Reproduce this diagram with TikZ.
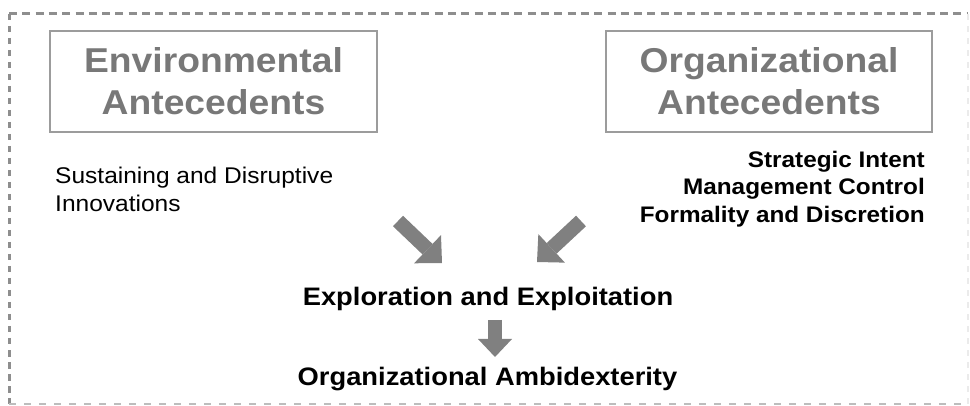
\documentclass[tikz,border=0pt]{standalone}
\usepackage{fontspec}
\setmainfont{Liberation Sans}[FakeStretch=1.08]
\usetikzlibrary{arrows.meta}
\definecolor{headgray}{HTML}{787878}
\definecolor{boxgray}{HTML}{9C9C9C}
\definecolor{arrowgray}{HTML}{808080}
\definecolor{framegray}{HTML}{8E8E8E}
\definecolor{lightframe}{HTML}{BDBDBD}

\begin{document}
\begin{tikzpicture}[x=1pt,y=-1pt,
	headbox/.style={draw=boxgray,line width=1.2pt,minimum width=327pt,minimum height=101pt,inner sep=0pt,align=center,text=headgray,font=\fontsize{34.5}{42}\selectfont\bfseries},
	flowtext/.style={inner sep=0pt,anchor=base,font=\fontsize{25.3}{30}\selectfont\bfseries},
	blockarrow/.style={draw=arrowgray,line width=14.5pt,-{Triangle[length=20pt,width=39pt,line width=0pt]}}]
			\useasboundingbox (0,0) rectangle (970,406);
			
			% dashed frame, the lower and right edges fainter
			\draw[framegray,line width=3pt,dash pattern=on 8pt off 5.3pt] (9,14) -- (968,14);
			\draw[framegray,line width=3pt,dash pattern=on 6.5pt off 5.5pt] (9,14) -- (9,404);
			\draw[lightframe,line width=1.5pt,dash pattern=on 7pt off 8pt] (9,404) -- (968,404);
			\draw[lightframe!30,line width=1.5pt,dash pattern=on 6pt off 6pt] (968,14) -- (968,404);
			
			\node[headbox] (envhead) at (213.5,81.5) {Environmental\\Antecedents};
			\node[headbox,minimum width=326pt] (orghead) at (769,81.5) {Organizational\\Antecedents};
			
			\node[inner sep=0pt,anchor=north west,align=left,font=\fontsize{22.7}{28.4}\selectfont] (envlist) at (55,166.5) {Sustaining and Disruptive\\Innovations};
			\node[inner sep=0pt,anchor=north east,align=right,font=\fontsize{22.5}{27.8}\selectfont\bfseries] (orglist) at (925,150.5) {Strategic Intent\\Management Control\\Formality and Discretion};
			
			\node[flowtext] (explore) at (488,306) {Exploration and Exploitation};
			\node[flowtext] (ambidex) at (487.5,385.5) {Organizational Ambidexterity};
			
			\coordinate (envtail) at (398,221);
			\coordinate (envtip) at (442,263);
			\coordinate (orgtail) at (581,221);
			\coordinate (orgtip) at (537,262);
			\coordinate (downtail) at (495,320);
			\coordinate (downtip) at (495,357);
			
			\draw[blockarrow] (envtail) -- (envtip);
			\draw[blockarrow] (orgtail) -- (orgtip);
			\draw[blockarrow,line width=14pt,-{Triangle[length=18pt,width=34pt,line width=0pt]}] (downtail) -- (downtip);
		\end{tikzpicture}
\end{document}
